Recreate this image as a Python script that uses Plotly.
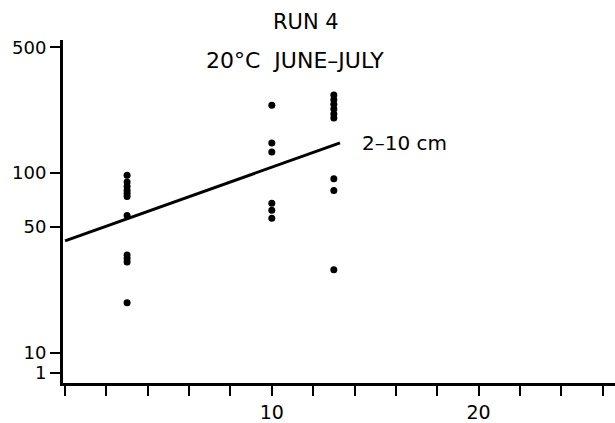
import plotly.graph_objects as go

# Data
run_x = [3, 3, 3, 3, 3, 3, 3, 3, 3, 3, 3,
         10, 10, 10, 10, 10, 10,
         13, 13, 13, 13, 13, 13, 13, 13, 13]
run_y = [97, 89, 84, 80, 77, 74, 58, 35, 33.5, 32, 19,
         238, 147, 131, 68, 62, 56,
         271, 255, 241, 227, 213, 202, 93, 80, 29]

fit_x = [0, 13.3]
fit_y = [42, 147]

y_tickvals = [7.74, 10, 50, 100, 500]
y_ticktext = ["1", "10", "50", "100", "500"]
x_tickvals = [0, 2, 4, 6, 8, 10, 12, 14, 16, 18, 20, 22, 24, 26]
x_ticktext = ["", "", "", "", "", "10", "", "", "", "", "20", "", "", ""]

title_1 = "RUN 4"
title_2 = "20°C  JUNE–JULY"
line_label = "2–10 cm"

FONT = "DejaVu Sans"

fig = go.Figure()
fig.add_trace(go.Scatter(x=run_x, y=run_y, mode="markers",
                         marker=dict(color="black", size=7), showlegend=False))
fig.add_trace(go.Scatter(x=fit_x, y=fit_y, mode="lines",
                         line=dict(color="black", width=3), showlegend=False))

fig.update_layout(
    width=615, height=423,
    margin=dict(l=63, r=0, t=40, b=40),
    paper_bgcolor="white", plot_bgcolor="white",
    font=dict(family=FONT, color="black", size=18),
    showlegend=False,
)
fig.update_xaxes(range=[-0.1, 26.6], showgrid=False, zeroline=False,
                 showline=True, linecolor="black", linewidth=3,
                 ticks="outside", ticklen=10, tickwidth=2, tickcolor="black",
                 tickvals=x_tickvals, ticktext=x_ticktext,
                 tickfont=dict(size=19))
fig.update_yaxes(type="log", range=[0.833, 2.739], showgrid=False, zeroline=False,
                 showline=True, linecolor="black", linewidth=3,
                 ticks="outside", ticklen=10, tickwidth=2, tickcolor="black",
                 tickvals=y_tickvals, ticktext=y_ticktext,
                 tickfont=dict(size=18))

fig.add_annotation(text=title_1, xref="paper", yref="paper", x=0.44, y=1.0,
                   xanchor="center", yanchor="middle", yshift=18, showarrow=False,
                   font=dict(size=21))
fig.add_annotation(text=title_2, xref="paper", yref="paper", x=0.42, y=1.0,
                   xanchor="center", yanchor="middle", yshift=-20, showarrow=False,
                   font=dict(size=22))
fig.add_annotation(text=line_label, x=fit_x[1], y=2.167, xref="x", yref="y",
                   xanchor="left", yanchor="middle", xshift=20, showarrow=False,
                   font=dict(size=20))

fig.write_html("out.html")
